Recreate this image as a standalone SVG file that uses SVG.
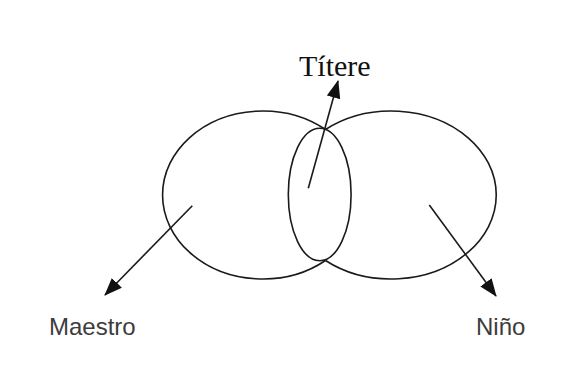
<svg xmlns="http://www.w3.org/2000/svg" width="564" height="366" viewBox="0 0 564 366">
<style>
.shape{fill:none;stroke:#1a1a1a;stroke-width:1.6}
.conn{fill:none;stroke:#1a1a1a;stroke-width:1.6}
.serif{font-family:"Liberation Serif","Times New Roman",serif;fill:#111}
.sans{font-family:"Liberation Sans",Arial,sans-serif;fill:#3c3c3c}
</style>
<defs>
<marker id="ah" markerUnits="userSpaceOnUse" markerWidth="18" markerHeight="14" viewBox="0 0 18 14" refX="17" refY="7" orient="auto">
<path d="M0,0 L18,7 L0,14 Z" fill="#111"/>
</marker>
</defs>
<rect width="564" height="366" fill="#fff"/>
<g id="maestro">
<path class="shape" d="M325.5,129.5 A100.2,84 0 1,0 325.5,260.5"/>
<text class="sans" x="49" y="335" font-size="24">Maestro</text>
</g>
<g id="nino">
<path class="shape" d="M325.5,129.5 A105,84 0 1,1 325.5,260.5"/>
<text class="sans" x="476" y="335" font-size="24">Niño</text>
</g>
<g id="titere">
<ellipse class="shape" cx="319.7" cy="194.5" rx="31.4" ry="66.2"/>
<text class="serif" x="299" y="76" font-size="30">Títere</text>
</g>
<g id="connectors">
<line class="conn" x1="308.3" y1="188.3" x2="338" y2="81" marker-end="url(#ah)"/>
<line class="conn" x1="192.3" y1="205.7" x2="105" y2="295" marker-end="url(#ah)"/>
<line class="conn" x1="429.3" y1="205" x2="496" y2="296" marker-end="url(#ah)"/>
</g>
</svg>
